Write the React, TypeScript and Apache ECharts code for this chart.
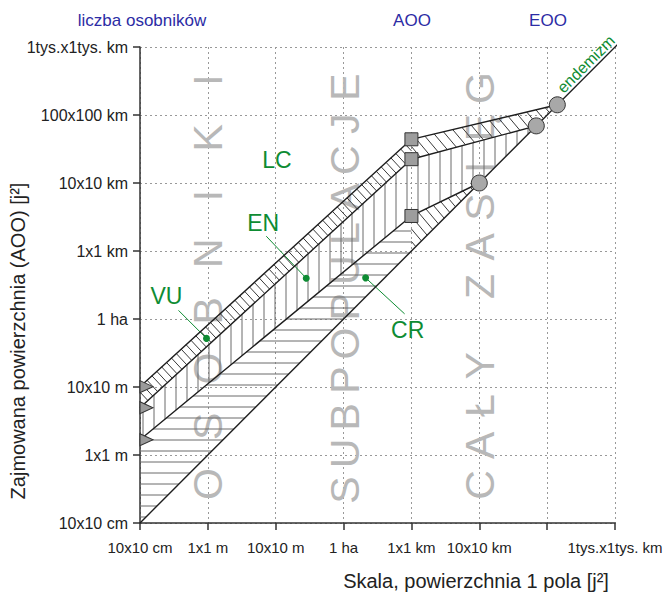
import React, { useEffect, useRef } from "react";
import * as echarts from "echarts";

// All positions are log10 of the area in m² (10x10 cm = -2, 1x1 m = 0, ... 1tys.x1tys. km = 12)
const tickExponents = [-2, 0, 2, 4, 6, 8, 10, 12];
const xTickLabels = ["10x10 cm", "1x1 m", "10x10 m", "1 ha", "1x1 km", "10x10 km", "", "1tys.x1tys. km"];
const yTickLabels = ["10x10 cm", "1x1 m", "10x10 m", "1 ha", "1x1 km", "10x10 km", "100x100 km", "1tys.x1tys. km"];

const diagonal = [[-2, -2], [12.07, 12.07]];
const upperEdge = [[-2, 2.01], [6, 9.285], [10.3, 10.3]];
const middleEdge = [[-2, 1.39], [6, 8.7], [9.68, 9.68]];
const lowerEdge = [[-2, 0.45], [6, 7.03], [8, 8]];
const squarePoints = [[6, 9.285], [6, 8.7], [6, 7.03]];
const circlePoints = [[10.3, 10.3], [9.68, 9.68], [8, 8]];
const trianglePoints = [[-2, 2.01], [-2, 1.39], [-2, 0.45]];
const categoryNames = ["VU", "EN", "CR"];
const categoryPoints = [[-0.04, 3.43], [2.9, 5.2], [4.65, 5.21]];

const topLabels = ["liczba osobników", "AOO", "EOO"];
const watermarkWords = ["OSOBNIKI", "SUBPOPULACJE", "CAŁY ZASIĘG"];

const FONT = "'Liberation Sans', Arial, Helvetica, sans-serif";
const GREEN = "#0e8c33";
const BLUE = "#2c2ca5";

// layout (pixels)
const labelOffsets = [[-40, -42], [-43, -55], [42, 52]];
const leaderOffsets = [[-28, -28], [-40, -42], [39, 36]];
const topLabelX = [142, 412, 548];
const watermarkLayout = [
  { x: 208, yStart: 484, yEnd: 80 },
  { x: 345, yStart: 490, yEnd: 87 },
  { x: 480, yStart: 485, yEnd: 88 },
];

function hatch(pts: number[][], angleDeg: number, spacing: number, style: any) {
  const a = (angleDeg * Math.PI) / 180;
  const dx = Math.cos(a), dy = Math.sin(a);
  const nx = -dy, ny = dx;
  const proj = pts.map((p) => p[0] * nx + p[1] * ny);
  const pmin = Math.min(...proj), pmax = Math.max(...proj);
  const out: any[] = [];
  for (let k = Math.ceil(pmin / spacing); k * spacing <= pmax; k++) {
    const c = k * spacing;
    const ts: number[] = [];
    for (let i = 0; i < pts.length; i++) {
      const j = (i + 1) % pts.length;
      const A = pts[i], B = pts[j];
      const fa = proj[i] - c, fb = proj[j] - c;
      if (fa < 0 !== fb < 0) {
        const t = fa / (fa - fb);
        const px = A[0] + t * (B[0] - A[0]);
        const py = A[1] + t * (B[1] - A[1]);
        ts.push(px * dx + py * dy);
      }
    }
    ts.sort((u, v) => u - v);
    for (let m = 0; m + 1 < ts.length; m += 2) {
      out.push({
        type: "line",
        shape: {
          x1: c * nx + ts[m] * dx, y1: c * ny + ts[m] * dy,
          x2: c * nx + ts[m + 1] * dx, y2: c * ny + ts[m + 1] * dy,
        },
        style,
      });
    }
  }
  return out;
}

function labelFor(list: string[], v: number) {
  const i = tickExponents.indexOf(Math.round(v));
  return i >= 0 ? list[i] : "";
}

export default function App() {
  const ref = useRef<HTMLDivElement>(null);
  useEffect(() => {
    const chart = echarts.init(ref.current!, null, { renderer: "svg" });

    const diagAt = (v: number) => [v, v];
    const bandLeft = [upperEdge[0], upperEdge[1], middleEdge[1], middleEdge[0]];
    const bandRight = [upperEdge[1], upperEdge[2], middleEdge[2], middleEdge[1]];
    const vertRegion = [middleEdge[0], middleEdge[1], middleEdge[2], lowerEdge[2], lowerEdge[1], lowerEdge[0]];
    const horizRegion = [diagonal[0], lowerEdge[0], lowerEdge[1], diagAt(lowerEdge[1][0])];
    const smallRegion = [diagAt(lowerEdge[1][0]), lowerEdge[1], lowerEdge[2]];

    const dark = { stroke: "#3a3a3a", lineWidth: 1 };
    const light = { stroke: "#6a6a6a", lineWidth: 1 };

    const wmGraphics: any[] = [];
    watermarkWords.forEach((w, wi) => {
      const chars = Array.from(w);
      const L = watermarkLayout[wi];
      const step = (L.yStart - L.yEnd) / (chars.length - 1);
      chars.forEach((ch, ci) => {
        if (ch === " ") return;
        wmGraphics.push({
          type: "text",
          x: L.x,
          y: L.yStart - ci * step,
          rotation: Math.PI / 2,
          z: 1,
          silent: true,
          style: { text: ch, fill: "#b8b8b8", fontSize: 41, fontFamily: FONT, align: "center", verticalAlign: "middle" },
        });
      });
    });

    const option: any = {
      animation: false,
      backgroundColor: "#ffffff",
      grid: { left: 140, right: 53, top: 47, bottom: 75, containLabel: false },
      xAxis: {
        type: "value", min: -2, max: 12, interval: 2,
        axisLine: { show: true, onZero: false, lineStyle: { color: "#333", width: 1.5 } },
        axisTick: { show: true, length: 7, lineStyle: { color: "#333", width: 1.5 } },
        axisLabel: { formatter: (v: number) => labelFor(xTickLabels, v), color: "#222", fontSize: 15, fontFamily: FONT, margin: 17 },
        splitLine: { show: true, lineStyle: { color: "#999", type: [2, 3], width: 1 } },
      },
      yAxis: {
        type: "value", min: -2, max: 12, interval: 2,
        axisLine: { show: true, onZero: false, lineStyle: { color: "#333", width: 1.5 } },
        axisTick: { show: true, length: 7, lineStyle: { color: "#333", width: 1.5 } },
        axisLabel: { formatter: (v: number) => labelFor(yTickLabels, v), color: "#222", fontSize: 16, fontFamily: FONT, margin: 12 },
        splitLine: { show: true, lineStyle: { color: "#999", type: [2, 3], width: 1 } },
      },
      series: [
        {
          type: "custom",
          coordinateSystem: "cartesian2d",
          data: [[0, 0]],
          silent: true,
          z: 3,
          clip: false,
          renderItem: (params: any, api: any) => {
            const px = (poly: number[][]) => poly.map((p) => api.coord(p));
            const children: any[] = [
              ...hatch(px(bandLeft), 47, 6.6, dark),
              ...hatch(px(bandRight), 50, 8.5, dark),
              ...hatch(px(vertRegion), 90, 11, light),
              ...hatch(px(horizRegion), 0, 11, light),
              ...hatch(px(smallRegion), 50, 8, dark),
            ];
            categoryPoints.forEach((p, i) => {
              const c = api.coord(p);
              children.push({
                type: "line",
                shape: { x1: c[0], y1: c[1], x2: c[0] + leaderOffsets[i][0], y2: c[1] + leaderOffsets[i][1] },
                style: { stroke: GREEN, lineWidth: 1 },
              });
            });
            return { type: "group", children };
          },
        },
        ...[diagonal, upperEdge, middleEdge, lowerEdge].map((d) => ({
          type: "line", data: d, symbol: "none", clip: false, z: 4, silent: true,
          lineStyle: { color: "#1e1e1e", width: 1.4 },
        })),
        {
          type: "scatter", data: trianglePoints, clip: false, z: 5, silent: true,
          symbol: "path://M0,0 L12,6 L0,12 Z", symbolSize: [13, 12], symbolOffset: [6.5, 0],
          itemStyle: { color: "#9a9a9a", borderColor: "#333", borderWidth: 1, opacity: 1 },
        },
        {
          type: "scatter", data: squarePoints, clip: false, z: 5, silent: true,
          symbol: "rect", symbolSize: 13,
          itemStyle: { color: "#9d9d9d", borderColor: "#333", borderWidth: 1, opacity: 1 },
        },
        {
          type: "scatter", data: circlePoints, clip: false, z: 5, silent: true,
          symbol: "circle", symbolSize: 16,
          itemStyle: { color: "#a8a8a8", borderColor: "#333", borderWidth: 1, opacity: 1 },
        },
        {
          type: "scatter", clip: false, z: 6, silent: true,
          data: categoryPoints.map((p, i) => ({
            value: p, name: categoryNames[i],
            label: { offset: labelOffsets[i] },
          })),
          symbol: "circle", symbolSize: 7,
          itemStyle: { color: GREEN, opacity: 1 },
          label: { show: true, position: "inside", formatter: "{b}", color: GREEN, fontSize: 23, fontFamily: FONT },
        },
      ],
      graphic: [
        ...wmGraphics,
        ...topLabels.map((t, i) => ({
          type: "text", x: topLabelX[i], y: 20, z: 10, silent: true,
          style: { text: t, fill: BLUE, fontSize: 17, fontFamily: FONT, align: "center", verticalAlign: "middle" },
        })),
        {
          type: "text", x: 277, y: 160, z: 10, silent: true,
          style: { text: "LC", fill: GREEN, fontSize: 23, fontFamily: FONT, align: "center", verticalAlign: "middle" },
        },
        {
          type: "text", x: 586, y: 64, z: 10, silent: true, rotation: Math.PI / 4,
          style: { text: "endemizm", fill: GREEN, fontSize: 16, fontFamily: FONT, align: "center", verticalAlign: "middle" },
        },
        {
          type: "text", x: 476, y: 581, z: 10, silent: true,
          style: { text: "Skala, powierzchnia 1 pola [j²]", fill: "#222", fontSize: 20, fontFamily: FONT, align: "center", verticalAlign: "middle" },
        },
        {
          type: "text", x: 18, y: 341, z: 10, silent: true, rotation: Math.PI / 2,
          style: { text: "Zajmowana powierzchnia (AOO) [j²]", fill: "#222", fontSize: 20, fontFamily: FONT, align: "center", verticalAlign: "middle" },
        },
      ],
    };
    chart.setOption(option);
    return () => chart.dispose();
  }, []);
  return <div ref={ref} style={{ position: "fixed", left: 0, top: 0, width: 668, height: 598, background: "#fff" }} />;
}
